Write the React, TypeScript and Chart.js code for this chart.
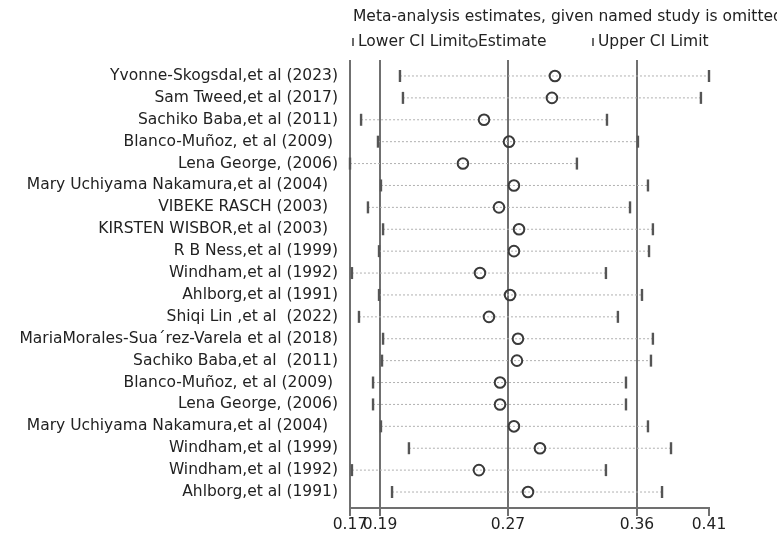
import React, { useEffect, useRef } from "react";
import { Chart, registerables } from "chart.js";

Chart.register(...registerables);

const studies: string[] = [
  "Yvonne-Skogsdal,et al (2023)",
  "Sam Tweed,et al (2017)",
  "Sachiko Baba,et al (2011)",
  "Blanco-Muñoz, et al (2009) ",
  "Lena George, (2006)",
  "Mary Uchiyama Nakamura,et al (2004)  ",
  "VIBEKE RASCH (2003)  ",
  "KIRSTEN WISBOR,et al (2003)  ",
  "R B Ness,et al (1999)",
  "Windham,et al (1992)",
  "Ahlborg,et al (1991)",
  "Shiqi Lin ,et al  (2022)",
  "MariaMorales-Sua\u00b4rez-Varela et al (2018)",
  "Sachiko Baba,et al  (2011)",
  "Blanco-Muñoz, et al (2009) ",
  "Lena George, (2006)",
  "Mary Uchiyama Nakamura,et al (2004)  ",
  "Windham,et al (1999)",
  "Windham,et al (1992)",
  "Ahlborg,et al (1991)",
];

const lowerCI: number[] = [
  0.2034, 0.2054, 0.1774, 0.1887, 0.17, 0.1907, 0.182, 0.1921, 0.1894, 0.1713,
  0.1894, 0.176, 0.1921, 0.1914, 0.1854, 0.1854, 0.1907, 0.2094, 0.1713, 0.1981,
];
const estimate: number[] = [
  0.307, 0.305, 0.2596, 0.2763, 0.2455, 0.2796, 0.2696, 0.283, 0.2796, 0.2569,
  0.277, 0.2629, 0.2823, 0.2816, 0.2703, 0.2703, 0.2796, 0.297, 0.2562, 0.289,
];
const upperCI: number[] = [
  0.41, 0.4046, 0.3418, 0.3625, 0.3217, 0.3692, 0.3572, 0.3725, 0.3699, 0.3411,
  0.3652, 0.3491, 0.3725, 0.3712, 0.3545, 0.3545, 0.3692, 0.3846, 0.3411, 0.3786,
];

const xTickValues: number[] = [0.17, 0.1901, 0.2756, 0.3618, 0.41];
const xTickLabels: string[] = ["0.17", "0.19", "0.27", "0.36", "0.41"];

const titleText = "Meta-analysis estimates, given named study is omitted";
const legendLower = "Lower CI Limit";
const legendEst = "Estimate";
const legendUpper = "Upper CI Limit";

const FONT = "DejaVu Sans";
const FONT_SIZE = 15.5;
const TEXT = "#222";
const GRID = "#707070";

const headerPlugin = {
  id: "header",
  afterDraw(chart: any) {
    const ctx = chart.ctx as CanvasRenderingContext2D;
    ctx.save();
    ctx.font = `${FONT_SIZE}px "${FONT}"`;
    ctx.fillStyle = TEXT;
    ctx.textBaseline = "middle";
    ctx.textAlign = "left";
    ctx.fillText(titleText, 353, 17);
    const ly = 42;
    ctx.strokeStyle = "#444";
    ctx.lineWidth = 1.6;
    ctx.beginPath();
    ctx.moveTo(353, ly - 4);
    ctx.lineTo(353, ly + 4);
    ctx.stroke();
    ctx.fillText(legendLower, 358, ly);
    ctx.beginPath();
    ctx.arc(473, ly + 1, 3.8, 0, Math.PI * 2);
    ctx.stroke();
    ctx.fillText(legendEst, 478, ly);
    ctx.beginPath();
    ctx.moveTo(593, ly - 4);
    ctx.lineTo(593, ly + 4);
    ctx.stroke();
    ctx.fillText(legendUpper, 598, ly);
    ctx.restore();
  },
};

export default function App() {
  const ref = useRef<HTMLCanvasElement | null>(null);

  useEffect(() => {
    if (!ref.current) return;
    const rows = studies.map((_, i) => i + 1);
    const lineData: any[] = [];
    rows.forEach((y, i) => {
      lineData.push({ x: lowerCI[i], y });
      lineData.push({ x: upperCI[i], y });
      lineData.push({ x: NaN, y: NaN });
    });

    const chart = new Chart(ref.current, {
      type: "scatter",
      data: {
        datasets: [
          {
            label: "Estimate",
            data: estimate.map((v, i) => ({ x: v, y: i + 1 })),
            pointStyle: "circle",
            pointRadius: 5.3,
            borderWidth: 2,
            borderColor: "#3a3a3a",
            backgroundColor: "rgba(0,0,0,0)",
            order: 0,
            clip: false,
          } as any,
          {
            label: "Lower",
            data: lowerCI.map((v, i) => ({ x: v, y: i + 1 })),
            pointStyle: "line",
            rotation: 90,
            pointRadius: 6,
            borderWidth: 2.4,
            borderColor: "#555",
            order: 1,
            clip: false,
          } as any,
          {
            label: "Upper",
            data: upperCI.map((v, i) => ({ x: v, y: i + 1 })),
            pointStyle: "line",
            rotation: 90,
            pointRadius: 6,
            borderWidth: 2.4,
            borderColor: "#555",
            order: 2,
            clip: false,
          } as any,
          {
            label: "CI",
            data: lineData,
            showLine: true,
            spanGaps: false,
            pointRadius: 0,
            borderColor: "#b0b0b0",
            borderWidth: 1,
            borderDash: [2, 2],
            order: 3,
            clip: false,
          } as any,
        ],
      },
      options: {
        responsive: false,
        animation: false,
        devicePixelRatio: 1,
        events: [],
        layout: { padding: { top: 60, right: 68, left: 0, bottom: 0 } },
        plugins: {
          legend: { display: false },
          tooltip: { enabled: false },
          title: { display: false },
        },
        scales: {
          x: {
            type: "linear",
            min: 0.17,
            max: 0.41,
            afterFit: (s: any) => {
              s.height = 31;
            },
            afterBuildTicks: (s: any) => {
              s.ticks = xTickValues.map((v) => ({ value: v }));
            },
            ticks: {
              autoSkip: false,
              maxRotation: 0,
              minRotation: 0,
              padding: 0,
              color: TEXT,
              font: { family: FONT, size: FONT_SIZE },
              callback: (_v: any, i: number) => xTickLabels[i],
            },
            grid: {
              color: (c: any) => (c.index === xTickValues.length - 1 ? "rgba(0,0,0,0)" : GRID),
              lineWidth: 2,
              tickLength: 8,
              tickColor: GRID,
              tickWidth: 2,
            },
            border: { display: true, color: GRID, width: 2 },
          },
          y: {
            type: "linear",
            reverse: true,
            min: 0.27,
            max: 20.73,
            afterFit: (s: any) => {
              s.width = 350;
            },
            afterBuildTicks: (s: any) => {
              s.ticks = rows.map((v) => ({ value: v }));
            },
            ticks: {
              autoSkip: false,
              padding: 12,
              color: TEXT,
              font: { family: FONT, size: FONT_SIZE },
              callback: (v: any) => studies[Math.round(Number(v)) - 1] ?? "",
            },
            grid: { display: false, drawTicks: false },
            border: { display: false },
          },
        },
      },
      plugins: [headerPlugin],
    } as any);

    return () => chart.destroy();
  }, []);

  return (
    <div style={{ position: "absolute", left: 0, top: 0, width: 777, height: 539, background: "#fff" }}>
      <canvas ref={ref} width={777} height={539} style={{ width: 777, height: 539, display: "block" }} />
    </div>
  );
}
